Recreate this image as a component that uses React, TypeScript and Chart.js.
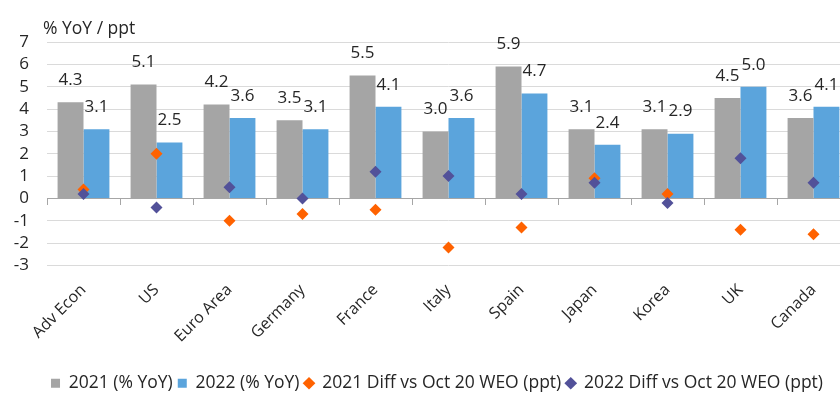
import React, { useEffect, useRef } from "react";
import { Chart, registerables } from "chart.js";

Chart.register(...registerables);

// Real GDP growth forecasts and revisions vs the October 2020 WEO
const categories = ["Adv Econ", "US", "Euro Area", "Germany", "France", "Italy", "Spain", "Japan", "Korea", "UK", "Canada"];
const growth2021 = [4.3, 5.1, 4.2, 3.5, 5.5, 3.0, 5.9, 3.1, 3.1, 4.5, 3.6];
const growth2022 = [3.1, 2.5, 3.6, 3.1, 4.1, 3.6, 4.7, 2.4, 2.9, 5.0, 4.1];
const diff2021 = [0.4, 2.0, -1.0, -0.7, -0.5, -2.2, -1.3, 0.9, 0.2, -1.4, -1.6];
const diff2022 = [0.2, -0.4, 0.5, 0.0, 1.2, 1.0, 0.2, 0.7, -0.2, 1.8, 0.7];
const yMin = -3;
const yMax = 7;

const FONT = '"Open Sans", "DejaVu Sans", sans-serif';
const TEXT = "#262626";
const GREY = "#A5A5A5";
const BLUE = "#5BA4DC";
const ORANGE = "#FF6200";
const PURPLE = "#525199";
const GRID = "#DADADA";
const AXIS = "#A6A6A6";

// Writes each bar's value above it
const barValueLabels = {
  id: "barValueLabels",
  afterDatasetsDraw(chart: any) {
    const ctx = chart.ctx;
    ctx.save();
    ctx.font = `17px ${FONT}`;
    ctx.fillStyle = TEXT;
    ctx.textAlign = "center";
    ctx.textBaseline = "middle";
    [0, 1].forEach((i) => {
      const meta = chart.getDatasetMeta(i);
      const values = chart.data.datasets[i].data as number[];
      meta.data.forEach((bar: any, j: number) => {
        ctx.fillText(Number(values[j]).toFixed(1), bar.x, bar.y - 22);
      });
    });
    ctx.restore();
  },
};

export default function App() {
  const canvasRef = useRef<HTMLCanvasElement | null>(null);

  useEffect(() => {
    if (!canvasRef.current) return;
    const chart = new Chart(canvasRef.current, {
      type: "bar",
      data: {
        labels: categories,
        datasets: [
          {
            type: "bar",
            label: "2021 (% YoY)",
            data: growth2021,
            backgroundColor: GREY,
            pointStyle: "rect",
            order: 2,
            categoryPercentage: 0.71,
            barPercentage: 1,
          } as any,
          {
            type: "bar",
            label: "2022 (% YoY)",
            data: growth2022,
            backgroundColor: BLUE,
            pointStyle: "rect",
            order: 3,
            categoryPercentage: 0.71,
            barPercentage: 1,
          } as any,
          {
            type: "line",
            label: "2021 Diff vs Oct 20 WEO (ppt)",
            data: diff2021,
            showLine: false,
            pointStyle: "rectRot",
            pointRadius: 6,
            pointHoverRadius: 6,
            pointBackgroundColor: ORANGE,
            pointBorderColor: ORANGE,
            pointBorderWidth: 0,
            backgroundColor: ORANGE,
            borderColor: ORANGE,
            order: 1,
          } as any,
          {
            type: "line",
            label: "2022 Diff vs Oct 20 WEO (ppt)",
            data: diff2022,
            showLine: false,
            pointStyle: "rectRot",
            pointRadius: 6,
            pointHoverRadius: 6,
            pointBackgroundColor: PURPLE,
            pointBorderColor: PURPLE,
            pointBorderWidth: 0,
            backgroundColor: PURPLE,
            borderColor: PURPLE,
            order: 0,
          } as any,
        ],
      },
      options: {
        animation: false,
        responsive: true,
        maintainAspectRatio: false,
        layout: { padding: { top: 42, left: 0, right: 0, bottom: 0 } },
        plugins: {
          title: { display: false },
          tooltip: { enabled: false },
          legend: {
            position: "bottom",
            labels: {
              usePointStyle: true,
              boxWidth: 9,
              boxHeight: 9,
              padding: 5,
              color: TEXT,
              font: { family: FONT, size: 17.5 },
              sort: (a: any, b: any) => a.datasetIndex - b.datasetIndex,
            },
          },
        },
        scales: {
          x: {
            type: "category",
            position: "bottom",
            offset: true,
            grid: { display: false, drawTicks: false },
            border: { display: false },
            ticks: {
              color: TEXT,
              font: { family: FONT, size: 16 },
              minRotation: 45,
              maxRotation: 45,
              autoSkip: false,
              padding: 15,
            },
            afterFit: (scale: any) => {
              scale.height = 104;
            },
          },
          x2: {
            type: "category",
            position: { y: 0 },
            offset: true,
            grid: {
              offset: true,
              drawOnChartArea: false,
              drawTicks: true,
              tickLength: 6,
              color: AXIS,
            },
            border: { display: true, color: AXIS, width: 1 },
            ticks: { display: false },
          } as any,
          y: {
            type: "linear",
            min: yMin,
            max: yMax,
            ticks: {
              stepSize: 1,
              autoSkip: false,
              color: TEXT,
              font: { family: FONT, size: 17 },
              padding: 18,
            },
            grid: {
              color: (c: any) => (c.tick && c.tick.value === 0 ? AXIS : GRID),
              drawTicks: false,
              lineWidth: 1,
            },
            border: { display: false },
            afterFit: (scale: any) => {
              scale.width = 47;
            },
          },
          // empty right-hand margin so the plot runs off the page edge
          yMargin: {
            type: "linear",
            position: "right",
            min: yMin,
            max: yMax,
            grid: { display: false, drawTicks: false },
            border: { display: false },
            ticks: { display: false },
            afterFit: (scale: any) => {
              scale.width = 24;
            },
          } as any,
        },
      },
      plugins: [barValueLabels],
    });
    return () => chart.destroy();
  }, []);

  return (
    <div
      style={{
        position: "fixed",
        left: 0,
        top: 0,
        width: 874,
        height: 402,
        background: "#ffffff",
        fontFamily: FONT,
      }}
    >
      <div
        style={{
          position: "absolute",
          left: 43,
          top: 17,
          fontSize: 17.5,
          lineHeight: "20px",
          color: TEXT,
          whiteSpace: "nowrap",
        }}
      >
        % YoY / ppt
      </div>
      <canvas ref={canvasRef} />
    </div>
  );
}
